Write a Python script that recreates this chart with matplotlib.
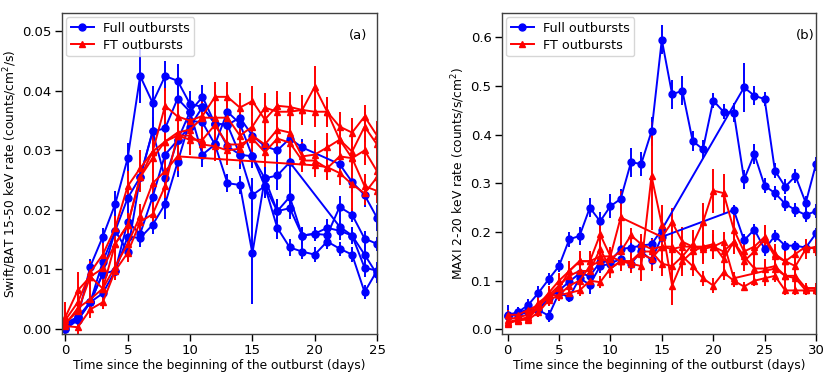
import matplotlib
matplotlib.use("Agg")
import matplotlib.pyplot as plt
import numpy as np

# ---------------- Panel (a): Swift/BAT 15-50 keV ----------------
bat_days = list(range(26))

bat_full = {
    "B1": [0.0005, 0.002, 0.0105, 0.0155, 0.021, 0.0287, 0.0425, 0.038, 0.0425, 0.0417, 0.0378, 0.0373, 0.0345,
           0.0343, 0.0355, 0.0325, 0.0307, 0.030, 0.032, 0.0305, None, None, 0.0277, 0.0247, 0.0225, 0.0187],
    "B2": [0.0, 0.0015, 0.0045, 0.0113, 0.0165, 0.022, 0.0255, 0.0332, 0.0337, 0.0387, 0.0365, 0.0293, 0.031,
           0.0245, 0.0242, 0.0127, 0.0253, 0.0198, 0.0222, 0.0157, 0.016, 0.0158, 0.0205, 0.0192, 0.0152, 0.0143],
    "B3": [0.0008, 0.0015, 0.0045, 0.0093, 0.0098, 0.018, 0.016, 0.0222, 0.0293, 0.0317, 0.0365, 0.039, 0.0345,
           0.0307, 0.0293, 0.0225, 0.024, 0.017, 0.0137, 0.013, 0.0125, 0.0147, 0.0135, 0.0125, 0.0062, 0.0098],
    "B4": [0.0, 0.0018, 0.0045, 0.006, 0.0098, 0.0155, 0.0153, 0.0175, 0.021, 0.028, 0.035, 0.0347, 0.031,
           0.0365, 0.0345, 0.029, 0.0253, 0.0258, 0.028, None, None, None, 0.0172, 0.0157, 0.0125, 0.0092],
    "B5": [0.001, 0.002, 0.0045, 0.0093, 0.0165, 0.013, 0.0255, 0.0332, 0.0253, 0.0317, 0.034, 0.0373, 0.0345,
           0.0343, 0.0293, 0.029, 0.024, 0.0198, 0.0203, 0.0157, 0.016, 0.017, 0.0165, 0.0157, 0.0103, 0.0098],
}
bat_full_err = {
    "B1": [0.001, 0.0012, 0.0012, 0.0015, 0.0022, 0.0025, 0.0045, 0.0028, 0.0025, 0.0028, 0.0022, 0.002, 0.002,
           0.002, 0.002, 0.002, 0.002, 0.002, 0.0018, 0.0015, 0, 0, 0.0015, 0.0018, 0.002, 0.0022],
    "B2": [0.001, 0.0012, 0.0015, 0.0015, 0.002, 0.0022, 0.002, 0.0025, 0.0035, 0.003, 0.0025, 0.002, 0.0022,
           0.0015, 0.0015, 0.0085, 0.002, 0.002, 0.0022, 0.0015, 0.0012, 0.0015, 0.0018, 0.0012, 0.0012, 0.0012],
    "B3": [0.001, 0.0012, 0.0012, 0.0015, 0.0015, 0.002, 0.0015, 0.002, 0.0025, 0.0025, 0.0025, 0.002, 0.002,
           0.002, 0.0025, 0.0028, 0.002, 0.0018, 0.0015, 0.0012, 0.0012, 0.0012, 0.0012, 0.0012, 0.0012, 0.0012],
    "B4": [0.001, 0.001, 0.0012, 0.0012, 0.0015, 0.0015, 0.0015, 0.0015, 0.0025, 0.0025, 0.002, 0.002, 0.002,
           0.002, 0.002, 0.002, 0.002, 0.0025, 0.005, 0, 0, 0, 0.0015, 0.0015, 0.0015, 0.0015],
    "B5": [0.001, 0.001, 0.0012, 0.0015, 0.0025, 0.0015, 0.002, 0.002, 0.0025, 0.002, 0.002, 0.0025, 0.002,
           0.002, 0.002, 0.002, 0.002, 0.0018, 0.0018, 0.0015, 0.0012, 0.0015, 0.0015, 0.0015, 0.0015, 0.0015],
}

bat_ft = {
    "R1": [0.0015, 0.0045, 0.0095, 0.0125, 0.017, 0.024, 0.027, 0.0298, 0.0375, 0.0357, 0.035, 0.0358, 0.039,
           0.039, 0.0372, 0.0383, 0.0352, 0.0375, 0.0373, 0.0368, 0.0407, 0.0365, 0.034, 0.033, 0.0357, 0.0325],
    "R2": [0.002, 0.0065, 0.0088, 0.0102, 0.0143, 0.0175, 0.0255, 0.0287, 0.0315, 0.033, 0.0335, 0.0355, 0.0355,
           0.0355, 0.0325, 0.034, 0.0372, 0.0365, 0.0365, 0.0368, 0.0365, 0.0365, 0.0318, 0.0298, 0.034, 0.031],
    "R3": [0.0008, 0.0035, 0.005, 0.0068, 0.0105, 0.0143, 0.019, 0.0245, 0.0265, 0.029, None, None, None,
           None, None, None, None, None, None, None, 0.0275, 0.0272, 0.0262, 0.0243, 0.0228, 0.0255],
    "R4": [0.0005, 0.0003, 0.0033, 0.0045, 0.0098, 0.0128, 0.018, 0.0193, 0.024, 0.0325, 0.0318, 0.0318, 0.0343,
           0.031, 0.031, 0.032, 0.0297, 0.032, 0.0313, 0.0283, 0.0283, 0.027, 0.029, 0.0287, 0.024, 0.0232],
    "R5": [0.001, 0.003, 0.0088, 0.0068, 0.0143, 0.0175, 0.0255, 0.0298, 0.0315, 0.0325, 0.0325, 0.031, 0.0307,
           0.030, 0.0303, 0.0325, 0.031, 0.0335, 0.033, 0.029, 0.0293, 0.0305, 0.0318, 0.0287, 0.030, 0.0265],
}
bat_ft_err = {
    "R1": [0.002, 0.002, 0.002, 0.002, 0.002, 0.0025, 0.003, 0.003, 0.003, 0.003, 0.003, 0.003, 0.0025,
           0.0025, 0.0025, 0.0025, 0.0025, 0.0025, 0.0025, 0.0025, 0.0035, 0.0025, 0.0025, 0.0025, 0.002, 0.0025],
    "R2": [0.0025, 0.003, 0.0025, 0.002, 0.002, 0.002, 0.0025, 0.0025, 0.0025, 0.0025, 0.0025, 0.0025, 0.0025,
           0.0025, 0.0025, 0.0025, 0.0025, 0.0025, 0.0025, 0.0025, 0.0025, 0.0025, 0.0025, 0.0025, 0.0025, 0.003],
    "R3": [0.0015, 0.0015, 0.0015, 0.0015, 0.002, 0.002, 0.002, 0.0025, 0.0025, 0.0025, 0, 0, 0,
           0, 0, 0, 0, 0, 0, 0, 0.002, 0.002, 0.002, 0.0045, 0.002, 0.002],
    "R4": [0.0015, 0.0015, 0.0015, 0.0012, 0.0015, 0.0015, 0.002, 0.002, 0.002, 0.0025, 0.0025, 0.0025, 0.0025,
           0.0025, 0.0025, 0.0025, 0.0025, 0.0025, 0.0025, 0.002, 0.002, 0.002, 0.002, 0.002, 0.002, 0.002],
    "R5": [0.0015, 0.0015, 0.002, 0.0015, 0.002, 0.002, 0.0025, 0.0025, 0.0025, 0.0025, 0.0025, 0.0025, 0.0025,
           0.0025, 0.0025, 0.0025, 0.0025, 0.0025, 0.0025, 0.0025, 0.0025, 0.0025, 0.0025, 0.0025, 0.0025, 0.0025],
}

# ---------------- Panel (b): MAXI 2-20 keV ----------------
maxi_days = list(range(31))

maxi_full = {
    "BA": [0.027, 0.035, 0.05, 0.075, 0.103, 0.13, 0.185, 0.192, 0.25, 0.222, 0.253, 0.268, 0.343, 0.34, 0.407,
           0.595, 0.483, 0.49, 0.387, 0.37, 0.47, 0.447, 0.445, 0.308, 0.36, 0.295, 0.28, 0.258, 0.245, 0.235, 0.243],
    "BB": [0.027, 0.03, 0.035, 0.04, 0.065, 0.08, 0.098, 0.115, 0.11, 0.138, 0.14, 0.165, 0.168, 0.172, 0.175,
           0.205, None, None, None, None, None, None, None, 0.497, 0.48, 0.473, 0.326, 0.293, 0.315, 0.26, 0.34],
    "BC": [0.03, 0.035, 0.04, 0.04, 0.028, 0.075, 0.066, 0.105, 0.092, 0.13, 0.135, 0.145, 0.135, 0.16, 0.142,
           0.19, None, None, None, None, None, None, 0.245, 0.183, 0.205, 0.165, 0.192, 0.172, 0.172, 0.168, 0.197],
}
maxi_full_err = {
    "BA": [0.01, 0.01, 0.012, 0.015, 0.012, 0.012, 0.015, 0.018, 0.02, 0.02, 0.025, 0.02, 0.03, 0.025, 0.03,
           0.03, 0.03, 0.03, 0.02, 0.02, 0.015, 0.015, 0.02, 0.02, 0.02, 0.015, 0.015, 0.015, 0.015, 0.015, 0.015],
    "BB": [0.015, 0.01, 0.01, 0.015, 0.012, 0.012, 0.012, 0.015, 0.015, 0.015, 0.015, 0.015, 0.012, 0.015, 0.012,
           0.015, 0, 0, 0, 0, 0, 0, 0, 0.05, 0.02, 0.015, 0.015, 0.015, 0.015, 0.015, 0.015],
    "BC": [0.02, 0.01, 0.01, 0.012, 0.012, 0.012, 0.01, 0.015, 0.02, 0.015, 0.015, 0.012, 0.012, 0.015, 0.012,
           0.015, 0, 0, 0, 0, 0, 0, 0.01, 0.012, 0.012, 0.015, 0.012, 0.01, 0.01, 0.01, 0.012],
}

maxi_ft = {
    "RA": [0.015, 0.02, 0.025, 0.05, 0.075, 0.1, 0.12, 0.14, 0.14, 0.195, 0.15, 0.14, 0.135, 0.13, 0.315,
           0.215, 0.09, 0.14, 0.16, 0.17, 0.175, 0.145, 0.18, 0.15, 0.125, 0.125, 0.13, 0.11, 0.105, 0.08, 0.08],
    "RB": [0.013, 0.018, 0.022, 0.045, 0.07, 0.09, 0.11, 0.12, 0.12, 0.165, 0.125, 0.14, 0.14, 0.16, 0.16,
           0.135, 0.13, 0.15, 0.175, 0.22, 0.285, 0.28, 0.205, 0.16, 0.17, 0.19, 0.155, 0.14, 0.13, 0.165, 0.17],
    "RC": [0.03, 0.03, 0.04, 0.05, 0.065, 0.085, 0.12, 0.14, 0.14, 0.15, 0.15, 0.23, None, None, None,
           0.19, 0.22, 0.18, 0.17, 0.165, 0.17, 0.16, 0.18, 0.14, 0.16, 0.185, 0.15, 0.14, 0.155, 0.17, 0.165],
    "RD": [0.012, 0.02, 0.02, 0.035, 0.06, 0.07, 0.075, 0.08, 0.1, 0.097, 0.125, 0.14, 0.14, 0.155, 0.145,
           0.17, 0.17, 0.15, 0.13, 0.105, 0.09, 0.117, 0.1, 0.088, 0.1, 0.105, 0.11, 0.08, 0.08, 0.08, 0.08],
    "RE": [0.02, 0.025, 0.03, 0.055, 0.07, 0.07, 0.09, 0.1, 0.13, 0.14, 0.145, 0.16, 0.193, 0.175, 0.165,
           0.17, 0.165, 0.17, 0.17, 0.17, 0.17, 0.18, 0.105, None, None, None, 0.125, 0.11, 0.11, 0.085, 0.085],
}
maxi_ft_err = {
    "RA": [0.01, 0.01, 0.01, 0.015, 0.015, 0.015, 0.02, 0.02, 0.02, 0.025, 0.02, 0.02, 0.02, 0.03, 0.11,
           0.04, 0.04, 0.03, 0.03, 0.03, 0.03, 0.025, 0.025, 0.02, 0.02, 0.02, 0.025, 0.02, 0.02, 0.01, 0.01],
    "RB": [0.01, 0.01, 0.01, 0.012, 0.015, 0.015, 0.015, 0.015, 0.015, 0.025, 0.02, 0.02, 0.02, 0.02, 0.02,
           0.025, 0.03, 0.03, 0.03, 0.04, 0.045, 0.04, 0.03, 0.02, 0.025, 0.025, 0.02, 0.02, 0.02, 0.02, 0.015],
    "RC": [0.01, 0.01, 0.01, 0.012, 0.015, 0.015, 0.015, 0.015, 0.02, 0.02, 0.02, 0.055, 0, 0, 0,
           0.03, 0.03, 0.03, 0.03, 0.03, 0.025, 0.025, 0.025, 0.02, 0.02, 0.02, 0.02, 0.02, 0.02, 0.015, 0.015],
    "RD": [0.008, 0.008, 0.008, 0.01, 0.012, 0.012, 0.012, 0.012, 0.015, 0.012, 0.012, 0.015, 0.025, 0.035, 0.025,
           0.02, 0.04, 0.03, 0.02, 0.015, 0.015, 0.015, 0.012, 0.01, 0.01, 0.015, 0.012, 0.01, 0.01, 0.01, 0.01],
    "RE": [0.01, 0.01, 0.01, 0.012, 0.012, 0.012, 0.015, 0.015, 0.015, 0.02, 0.02, 0.02, 0.015, 0.02, 0.02,
           0.02, 0.02, 0.02, 0.02, 0.02, 0.02, 0.02, 0.012, 0, 0, 0, 0.015, 0.012, 0.01, 0.01, 0.01],
}


def draw(ax, days, series, errs, color, marker, ms):
    for key, vals in series.items():
        pts = [(d, v, e) for d, v, e in zip(days, vals, errs[key]) if v is not None]
        x = [p[0] for p in pts]
        y = [p[1] for p in pts]
        e = [p[2] for p in pts]
        ax.errorbar(x, y, yerr=e, color=color, marker=marker, ms=ms, lw=1.4,
                    elinewidth=1.4, capsize=0, mec=color, mfc=color)


fig = plt.figure(figsize=(8.31, 3.80), dpi=100)
ax1 = fig.add_axes([0.0746, 0.121, 0.3791, 0.845])
ax2 = fig.add_axes([0.604, 0.121, 0.378, 0.845])

fs = 9.5
lfs = 8.8
for ax, days, fdat, ferr, tdat, terr in [
    (ax1, bat_days, bat_full, bat_full_err, bat_ft, bat_ft_err),
    (ax2, maxi_days, maxi_full, maxi_full_err, maxi_ft, maxi_ft_err),
]:
    draw(ax, days, fdat, ferr, "blue", "o", 5)
    draw(ax, days, tdat, terr, "red", "^", 5)
    ax.tick_params(direction="out", length=5, width=1, labelsize=fs, colors="black", pad=2.5)
    for s in ax.spines.values():
        s.set_color("0.25")
        s.set_linewidth(1.0)
    ax.set_xlabel("Time since the beginning of the outburst (days)", fontsize=lfs, labelpad=1)
    h1, = ax.plot([], [], color="blue", marker="o", ms=5, lw=1.4)
    h2, = ax.plot([], [], color="red", marker="^", ms=5, lw=1.4)
    leg = ax.legend([h1, h2], ["Full outbursts", "FT outbursts"], loc="upper left",
                    fontsize=9.2, frameon=True, borderpad=0.35, handlelength=1.8,
                    handletextpad=0.7, labelspacing=0.3, borderaxespad=0.35)
    leg.get_frame().set_edgecolor("0.8")

ax1.set_xlim(-0.27, 25)
ax1.set_ylim(-0.00084, 0.0531)
ax1.set_xticks([0, 5, 10, 15, 20, 25])
ax1.set_yticks([0.0, 0.01, 0.02, 0.03, 0.04, 0.05])
ax1.set_yticklabels(["0.00", "0.01", "0.02", "0.03", "0.04", "0.05"])
ax1.set_ylabel("Swift/BAT 15-50 keV rate (counts/cm$^2$/s)", fontsize=lfs)
ax1.yaxis.set_label_coords(-0.137, 0.5)
ax1.text(0.97, 0.93, "(a)", transform=ax1.transAxes, ha="right", va="center", fontsize=fs)

ax2.set_xlim(-0.55, 30)
ax2.set_ylim(-0.0095, 0.65)
ax2.set_xticks([0, 5, 10, 15, 20, 25, 30])
ax2.set_yticks([0.0, 0.1, 0.2, 0.3, 0.4, 0.5, 0.6])
ax2.set_ylabel("MAXI 2-20 keV rate (counts/s/cm$^2$)", fontsize=lfs)
ax2.yaxis.set_label_coords(-0.111, 0.5)
ax2.text(0.995, 0.93, "(b)", transform=ax2.transAxes, ha="right", va="center", fontsize=fs)

fig.savefig("out.png", dpi=100)
